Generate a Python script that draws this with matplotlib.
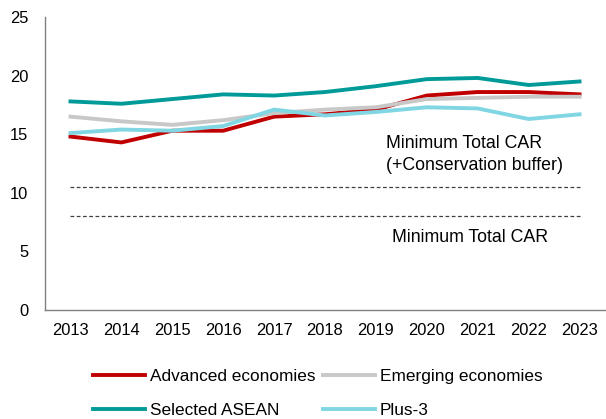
import matplotlib
matplotlib.use("Agg")
import matplotlib.pyplot as plt

plt.rcParams["font.family"] = ["Liberation Sans", "DejaVu Sans"]
plt.rcParams["font.size"] = 11.9

years = ["2013", "2014", "2015", "2016", "2017", "2018",
         "2019", "2020", "2021", "2022", "2023"]

advanced = [14.8, 14.3, 15.3, 15.3, 16.5, 16.7, 17.1, 18.3, 18.6, 18.6, 18.4]
emerging = [16.5, 16.1, 15.8, 16.2, 16.8, 17.1, 17.3, 18.0, 18.1, 18.2, 18.2]
asean = [17.8, 17.6, 18.0, 18.4, 18.3, 18.6, 19.1, 19.7, 19.8, 19.2, 19.5]
plus3 = [15.1, 15.4, 15.3, 15.7, 17.1, 16.6, 16.9, 17.3, 17.2, 16.3, 16.7]

min_car_buffer = 10.5
min_car = 8.0

x = range(len(years))

fig = plt.figure(figsize=(6.06, 4.19), dpi=100)
ax = fig.add_axes([0.0743, 0.26, 0.924, 0.6994])

ax.plot(x, [min_car_buffer] * len(years), color="#404040", lw=0.9, ls=(0, (3, 2)))
ax.plot(x, [min_car] * len(years), color="#404040", lw=0.9, ls=(0, (3, 2)))

h_adv, = ax.plot(x, advanced, color="#C00000", lw=2.8, label="Advanced economies")
h_emg, = ax.plot(x, emerging, color="#C8C8C8", lw=2.8, label="Emerging economies")
h_asean, = ax.plot(x, asean, color="#009B98", lw=2.8, label="Selected ASEAN")
h_plus3, = ax.plot(x, plus3, color="#80D6E2", lw=2.8, label="Plus-3")

ax.text(6.2, 13.25, "Minimum Total CAR\n(+Conservation buffer)", ha="left",
        va="center", linespacing=1.4, fontsize=12.8)
ax.text(6.32, 6.15, "Minimum Total CAR", ha="left", va="center", fontsize=12.8)

ax.set_xlim(-0.5, 10.5)
ax.set_ylim(0, 25)
ax.set_yticks([0, 5, 10, 15, 20, 25])
ax.set_xticks(list(x))
ax.set_xticklabels(years)
ax.tick_params(axis="y", length=0, pad=12)
ax.tick_params(axis="x", length=0, pad=9)

for side in ["top", "right"]:
    ax.spines[side].set_visible(False)
for side in ["left", "bottom"]:
    ax.spines[side].set_color("#808080")
    ax.spines[side].set_linewidth(1.0)

# legend is filled column by column, so order handles to read row-wise
handles = [h_adv, h_asean, h_emg, h_plus3]
fig.legend(handles=handles, labels=[h.get_label() for h in handles],
           loc="upper left", bbox_to_anchor=(0.1535, 0.12), ncol=2,
           frameon=False, borderpad=0, borderaxespad=0, handlelength=3.0,
           handletextpad=0.3, columnspacing=0.45, labelspacing=1.12,
           fontsize=12.4)

fig.savefig("out.png", dpi=100)
